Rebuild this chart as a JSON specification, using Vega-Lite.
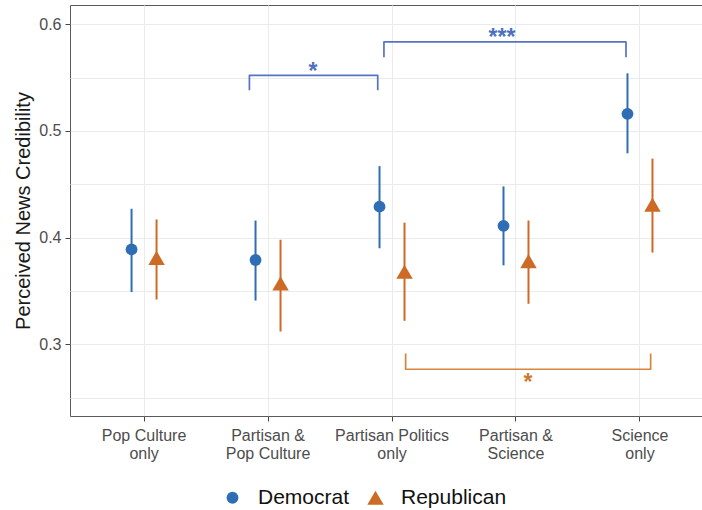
{
  "$schema": "https://vega.github.io/schema/vega-lite/v6.json",
  "width": 632,
  "height": 411,
  "autosize": {"type": "none"},
  "padding": {"left": 70, "top": 5, "right": 0, "bottom": 94},
  "background": "white",
  "config": {
    "font": "Liberation Sans",
    "view": {"stroke": "#5a5a5a", "strokeWidth": 1},
    "axis": {
      "gridColor": "#ebebeb",
      "gridWidth": 1,
      "tickColor": "#444444",
      "tickSize": 5,
      "domain": false,
      "labelColor": "#4d4d4d",
      "labelFontSize": 16,
      "labelFont": "Liberation Sans"
    }
  },
  "datasets": {
    "estimates": [
      {"condition": "Pop Culture only", "party": "Democrat", "mean": 0.389, "lo": 0.349, "hi": 0.427},
      {"condition": "Pop Culture only", "party": "Republican", "mean": 0.381, "lo": 0.342, "hi": 0.417},
      {"condition": "Partisan & Pop Culture", "party": "Democrat", "mean": 0.379, "lo": 0.341, "hi": 0.416},
      {"condition": "Partisan & Pop Culture", "party": "Republican", "mean": 0.357, "lo": 0.312, "hi": 0.398},
      {"condition": "Partisan Politics only", "party": "Democrat", "mean": 0.429, "lo": 0.390, "hi": 0.467},
      {"condition": "Partisan Politics only", "party": "Republican", "mean": 0.368, "lo": 0.322, "hi": 0.414},
      {"condition": "Partisan & Science", "party": "Democrat", "mean": 0.411, "lo": 0.374, "hi": 0.448},
      {"condition": "Partisan & Science", "party": "Republican", "mean": 0.378, "lo": 0.338, "hi": 0.416},
      {"condition": "Science only", "party": "Democrat", "mean": 0.516, "lo": 0.479, "hi": 0.554},
      {"condition": "Science only", "party": "Republican", "mean": 0.431, "lo": 0.386, "hi": 0.474}
    ],
    "brackets": [
      {"bracket": "b1", "side": "Democrat", "ord": 1, "bx": 1.85, "by": 0.538},
      {"bracket": "b1", "side": "Democrat", "ord": 2, "bx": 1.85, "by": 0.552},
      {"bracket": "b1", "side": "Democrat", "ord": 3, "bx": 2.885, "by": 0.552},
      {"bracket": "b1", "side": "Democrat", "ord": 4, "bx": 2.885, "by": 0.538},
      {"bracket": "b2", "side": "Democrat", "ord": 1, "bx": 2.935, "by": 0.569},
      {"bracket": "b2", "side": "Democrat", "ord": 2, "bx": 2.935, "by": 0.5834},
      {"bracket": "b2", "side": "Democrat", "ord": 3, "bx": 4.887, "by": 0.5834},
      {"bracket": "b2", "side": "Democrat", "ord": 4, "bx": 4.887, "by": 0.569},
      {"bracket": "b3", "side": "Republican", "ord": 1, "bx": 3.11, "by": 0.2913},
      {"bracket": "b3", "side": "Republican", "ord": 2, "bx": 3.11, "by": 0.2766},
      {"bracket": "b3", "side": "Republican", "ord": 3, "bx": 5.086, "by": 0.2766},
      {"bracket": "b3", "side": "Republican", "ord": 4, "bx": 5.086, "by": 0.2913}
    ],
    "stars": [
      {"label": "*", "side": "Democrat", "sx": 2.363, "sy": 0.5489},
      {"label": "***", "side": "Democrat", "sx": 3.887, "sy": 0.5805},
      {"label": "*", "side": "Republican", "sx": 4.097, "sy": 0.2576}
    ]
  },
  "resolve": {"scale": {"x": "independent"}, "axis": {"x": "independent"}},
  "layer": [
    {
      "layer": [
        {
          "mark": {"type": "rule", "strokeWidth": 2},
          "encoding": {
            "y": {
              "field": "lo", "type": "quantitative",
              "scale": {"domain": [0.2328, 0.618], "nice": false, "zero": false},
              "axis": {
                "values": [0.25, 0.3, 0.35, 0.4, 0.45, 0.5, 0.55, 0.6],
                "labelExpr": "round(datum.value*100) % 10 == 0 ? format(datum.value, '.1f') : ''",
                "tickOpacity": {"condition": {"test": "round(datum.value*100) % 10 != 0", "value": 0}, "value": 1},
                "grid": true,
                "labelPadding": 4,
                "title": "Perceived News Credibility",
                "titleFontSize": 20,
                "titleFontWeight": "normal",
                "titleColor": "#1a1a1a",
                "titlePadding": 5
              }
            },
            "y2": {"field": "hi"}
          }
        },
        {
          "mark": {"type": "point", "filled": true, "opacity": 1},
          "encoding": {
            "y": {"field": "mean", "type": "quantitative"},
            "shape": {
              "field": "party", "type": "nominal",
              "scale": {"domain": ["Democrat", "Republican"], "range": ["circle", "triangle-up"]}
            },
            "size": {
              "field": "party", "type": "nominal",
              "scale": {"domain": ["Democrat", "Republican"], "range": [140, 270]}
            }
          }
        }
      ],
      "data": {"name": "estimates"},
      "encoding": {
        "x": {
          "field": "condition", "type": "nominal",
          "sort": ["Pop Culture only", "Partisan & Pop Culture", "Partisan Politics only", "Partisan & Science", "Science only"],
          "scale": {"type": "band", "paddingInner": 0.1935, "paddingOuter": 0.1455, "align": 0.6667},
          "axis": {
            "grid": true,
            "bandPosition": 0.5,
            "title": null,
            "labelAngle": 0,
            "labelPadding": 6,
            "labelLineHeight": 18,
            "labelExpr": "indexof(datum.label, ' only') > 0 ? [replace(datum.label, ' only', ''), 'only'] : ['Partisan &', replace(datum.label, 'Partisan & ', '')]"
          }
        },
        "xOffset": {
          "field": "party", "type": "nominal",
          "scale": {"domain": ["Democrat", "Republican"], "type": "band", "paddingInner": 0, "paddingOuter": 1}
        },
        "color": {
          "field": "party", "type": "nominal",
          "scale": {"domain": ["Democrat", "Republican"], "range": ["#2f6eb5", "#cc6a26"]},
          "legend": {
            "title": null,
            "orient": "none",
            "direction": "horizontal",
            "legendX": 152,
            "legendY": 482,
            "labelFontSize": 21,
            "labelColor": "#111111",
            "labelOffset": 15,
            "columnPadding": 15,
            "symbolStrokeWidth": 0
          }
        }
      }
    },
    {
      "layer": [
        {
          "data": {"name": "brackets"},
          "transform": [{"filter": "datum.side == 'Democrat'"}],
          "mark": {"type": "line", "color": "#5872c6", "strokeWidth": 1.7, "strokeJoin": "round"},
          "encoding": {
            "x": {"field": "bx", "type": "quantitative", "scale": {"domain": [0.4032, 5.5], "nice": false, "zero": false}, "axis": null},
            "y": {"field": "by", "type": "quantitative"},
            "detail": {"field": "bracket"},
            "order": {"field": "ord"}
          }
        },
        {
          "data": {"name": "brackets"},
          "transform": [{"filter": "datum.side == 'Republican'"}],
          "mark": {"type": "line", "color": "#d9853f", "strokeWidth": 1.7, "strokeJoin": "round"},
          "encoding": {
            "x": {"field": "bx", "type": "quantitative"},
            "y": {"field": "by", "type": "quantitative"},
            "detail": {"field": "bracket"},
            "order": {"field": "ord"}
          }
        },
        {
          "data": {"name": "stars"},
          "transform": [{"filter": "datum.side == 'Democrat'"}],
          "mark": {"type": "text", "color": "#4a72c0", "fontSize": 23, "fontWeight": "bold", "baseline": "alphabetic", "align": "center"},
          "encoding": {
            "x": {"field": "sx", "type": "quantitative"},
            "y": {"field": "sy", "type": "quantitative"},
            "text": {"field": "label"}
          }
        },
        {
          "data": {"name": "stars"},
          "transform": [{"filter": "datum.side == 'Republican'"}],
          "mark": {"type": "text", "color": "#d0782f", "fontSize": 23, "fontWeight": "bold", "baseline": "alphabetic", "align": "center"},
          "encoding": {
            "x": {"field": "sx", "type": "quantitative"},
            "y": {"field": "sy", "type": "quantitative"},
            "text": {"field": "label"}
          }
        }
      ]
    }
  ]
}
